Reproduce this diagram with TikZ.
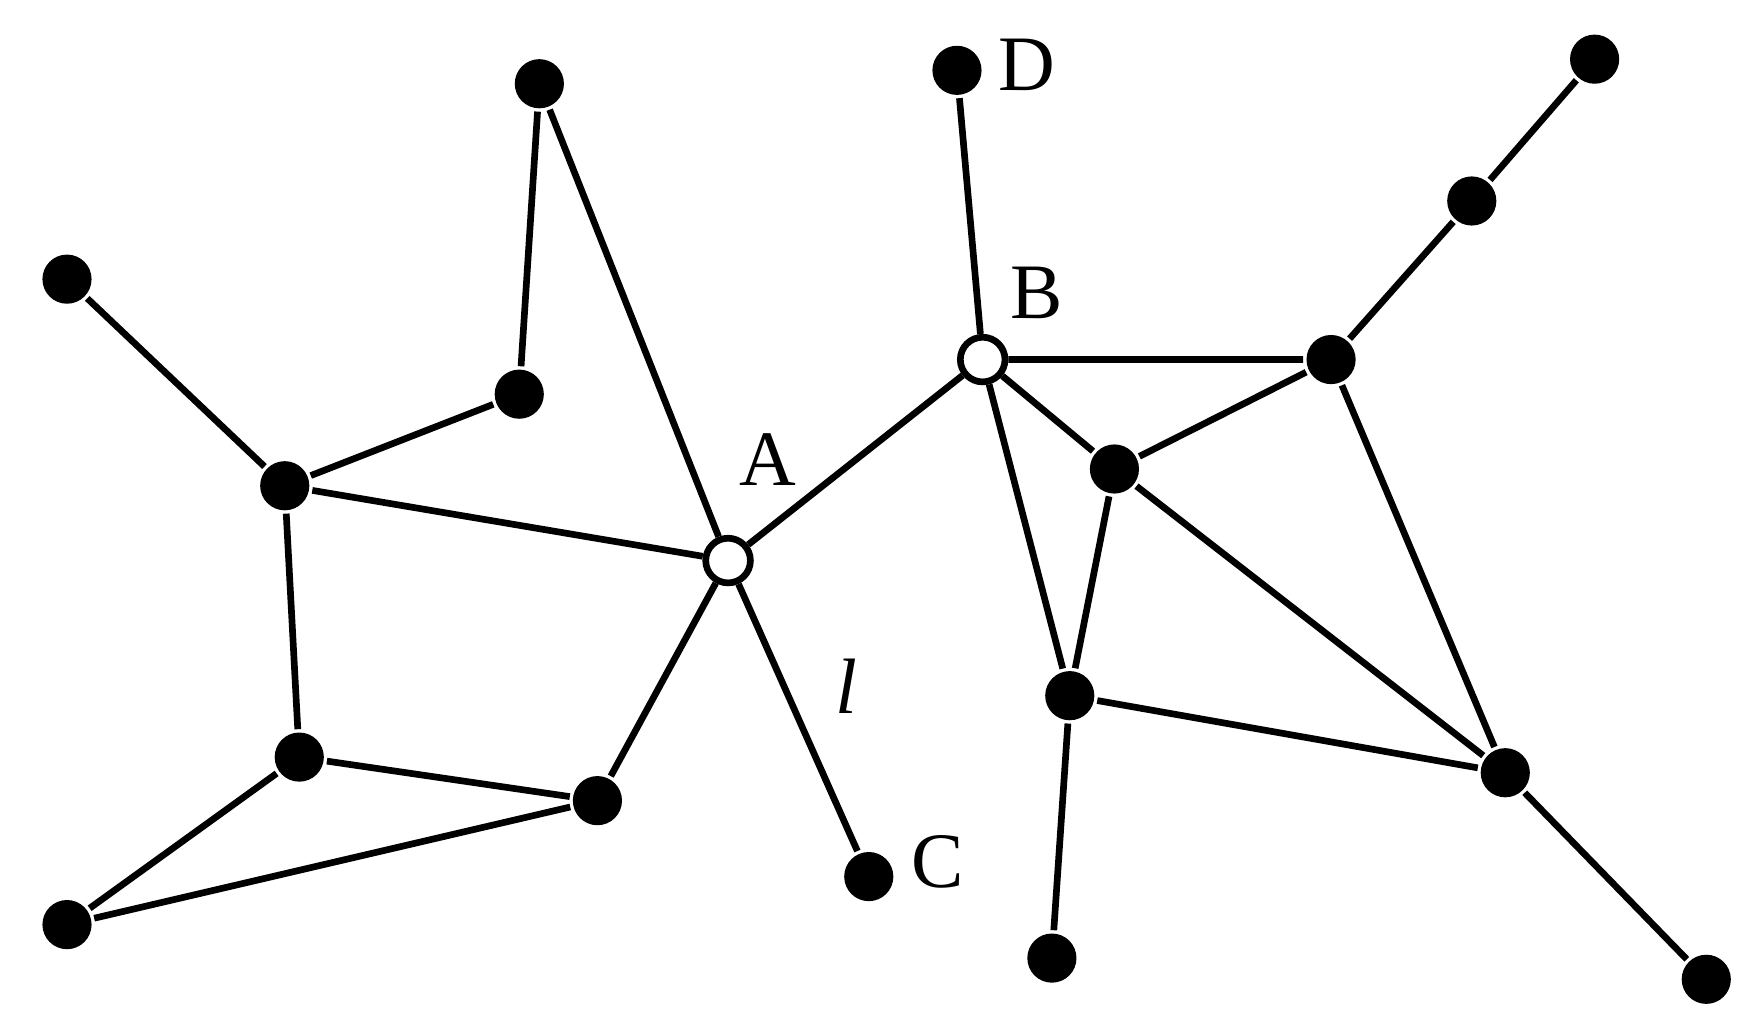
\documentclass[tikz,border=0pt]{standalone}
\usepackage{fontspec}
\setmainfont{Liberation Serif}
\begin{document}
\begin{tikzpicture}[x=0.01cm,y=-0.01cm,
 dot/.style={circle,fill=black,inner sep=0pt,minimum size=0.44cm},
 hol/.style={circle,draw=black,fill=white,line width=1.7pt,inner sep=0pt,minimum size=0.40cm},
 lbl/.style={font=\fontsize{20}{22}\selectfont},
 every path/.style={line width=1.7pt}]
\useasboundingbox (0,0) rectangle (1560,925);
\node[dot] (n1) at (483,75) {};
\node[dot] (d) at (857,63) {};
\node[dot] (n3) at (1428,53) {};
\node[dot] (n4) at (1318,180) {};
\node[dot] (n5) at (60,250) {};
\node[dot] (n7) at (1192,322) {};
\node[dot] (n8) at (465,353) {};
\node[dot] (n9) at (255,435) {};
\node[dot] (n10) at (998,420) {};
\node[dot] (n12) at (958,623) {};
\node[dot] (n13) at (268,678) {};
\node[dot] (n14) at (535,717) {};
\node[dot] (n15) at (1348,692) {};
\node[dot] (c) at (778,785) {};
\node[dot] (n17) at (60,828) {};
\node[dot] (n18) at (942,858) {};
\node[dot] (n19) at (1528,877) {};
\node[hol] (b) at (880,322) {};
\node[hol] (a) at (652,502) {};
\begin{scope}[on background layer/.style={}]
\end{scope}
\draw (n1)--(n8) (n1)--(a) (n5)--(n9) (n9)--(n8) (n9)--(a) (n9)--(n13)
 (n13)--(n14) (n13)--(n17) (n17)--(n14) (n14)--(a) (a)--(c) (a)--(b)
 (b)--(d) (b)--(n7) (b)--(n10) (b)--(n12) (n10)--(n7) (n7)--(n4) (n4)--(n3)
 (n10)--(n12) (n10)--(n15) (n7)--(n15) (n12)--(n15) (n12)--(n18) (n15)--(n19);
\node[lbl] (ld) at (920,58) {D};
\node[lbl] (lb) at (928,262) {B};
\node[lbl] (la) at (688,412) {A};
\node[lbl] (ll) at (758,615) {\itshape l};
\node[lbl] (lc) at (840,772) {C};
\end{tikzpicture}
\end{document}
